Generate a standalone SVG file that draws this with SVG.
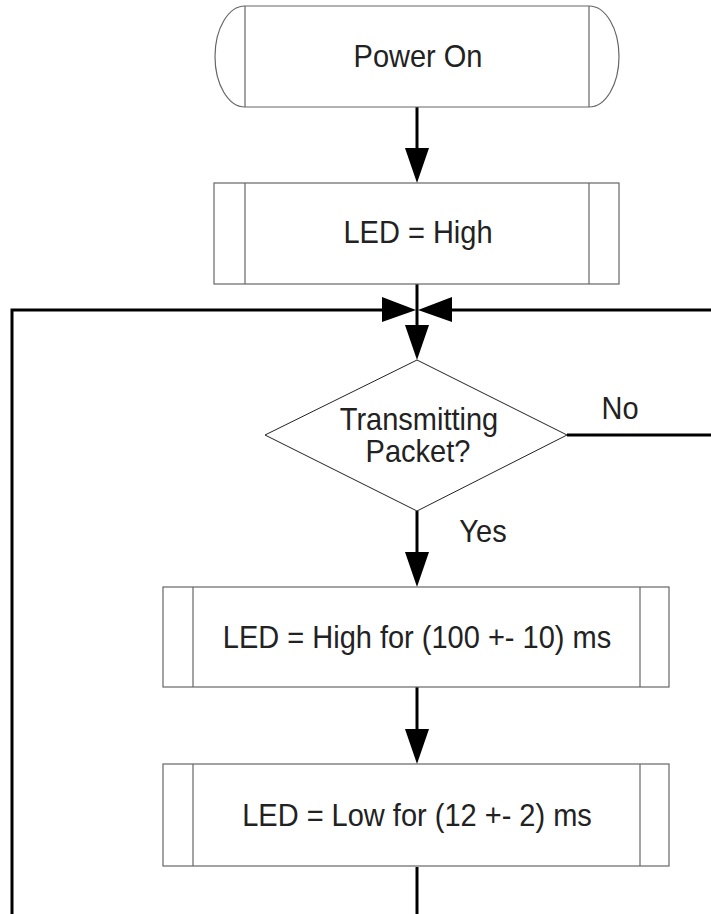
<svg xmlns="http://www.w3.org/2000/svg" width="711" height="914" viewBox="0 0 711 914">
<defs>
<style>
.box{fill:#fff;stroke:#666;stroke-width:1.2}
.dia{fill:#fff;stroke:#222;stroke-width:1}
.conn{fill:none;stroke:#000;stroke-width:3}
.head{fill:#000;stroke:none}
text{font-family:"Liberation Sans",Arial,sans-serif;font-size:29px;fill:#222;text-anchor:middle}
</style>
</defs>
<rect width="711" height="914" fill="#fff"/>
<g id="connectors">
<line class="conn" x1="417" y1="107" x2="417" y2="150"/>
<polygon class="head" points="405,148 429,148 417,183"/>
<line class="conn" x1="417" y1="284" x2="417" y2="327"/>
<polygon class="head" points="405,325 429,325 417,360"/>
<path class="conn" d="M12,914 V310 H384"/>
<polygon class="head" points="382,297 382,322 416,310"/>
<path class="conn" d="M567,435 H722 V310 H450"/>
<polygon class="head" points="452,297 452,322 418,310"/>
<line class="conn" x1="417" y1="511" x2="417" y2="554"/>
<polygon class="head" points="405,552 429,552 417,587"/>
<line class="conn" x1="417" y1="687" x2="417" y2="731"/>
<polygon class="head" points="405,729 429,729 417,764"/>
<line class="conn" x1="417" y1="867" x2="417" y2="914"/>
<text x="620" y="419" transform="matrix(1,0,0,1.08,0,-33.52)">No</text>
<text x="483" y="542" transform="matrix(1,0,0,1.08,0,-43.36)">Yes</text>
</g>
<g id="power-on">
<path class="box" d="M245,6 H589 A30,50.5 0 0 1 589,107 H245 A30,50.5 0 0 1 245,6 Z"/>
<line class="box" x1="245" y1="6" x2="245" y2="107"/>
<line class="box" x1="589" y1="6" x2="589" y2="107"/>
<text x="418" y="67" transform="matrix(1,0,0,1.08,0,-5.36)">Power On</text>
</g>
<g id="led-high">
<rect class="box" x="214" y="183" width="405" height="101"/>
<line class="box" x1="245" y1="183" x2="245" y2="284"/>
<line class="box" x1="589" y1="183" x2="589" y2="284"/>
<text x="418" y="243" transform="matrix(1,0,0,1.08,0,-19.44)">LED = High</text>
</g>
<g id="decision">
<polygon class="dia" points="417,360 567,435 417,511 265,435"/>
<text x="419" y="430" transform="matrix(1,0,0,1.08,0,-34.4)">Transmitting</text>
<text x="418" y="462" transform="matrix(1,0,0,1.08,0,-36.96)">Packet?</text>
</g>
<g id="led-high-100">
<rect class="box" x="163" y="587" width="506" height="100"/>
<line class="box" x1="193" y1="587" x2="193" y2="687"/>
<line class="box" x1="640" y1="587" x2="640" y2="687"/>
<text x="417" y="648" transform="matrix(1,0,0,1.08,0,-51.84)">LED = High for (100 +- 10) ms</text>
</g>
<g id="led-low-12">
<rect class="box" x="163" y="764" width="506" height="102"/>
<line class="box" x1="193" y1="764" x2="193" y2="866"/>
<line class="box" x1="640" y1="764" x2="640" y2="866"/>
<text x="417" y="826" transform="matrix(1,0,0,1.08,0,-66.08)">LED = Low for (12 +- 2) ms</text>
</g>
</svg>
